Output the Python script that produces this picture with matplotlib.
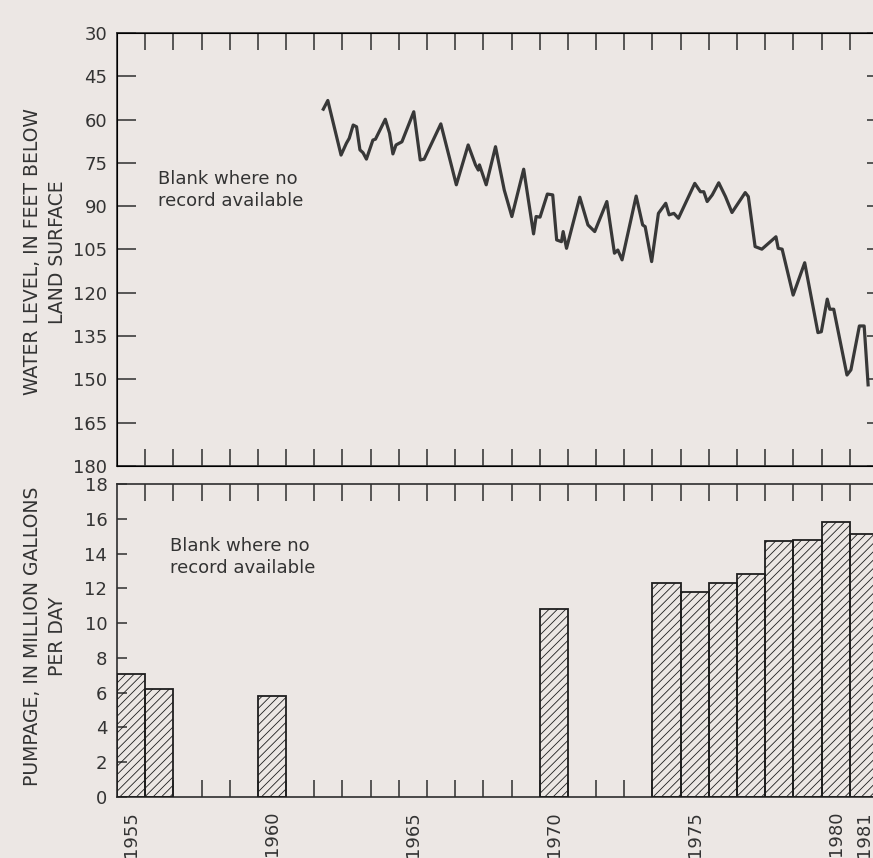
import matplotlib
matplotlib.use('Agg')
import matplotlib.pyplot as plt
import numpy as np

# water level record, feet below land surface
wl_year = [1961.82, 1961.98, 1962.45, 1962.64, 1962.74, 1962.88, 1963.00, 1963.12,
           1963.23, 1963.35, 1963.58, 1963.67, 1964.02, 1964.17, 1964.29, 1964.40,
           1964.61, 1965.03, 1965.26, 1965.40, 1965.99, 1966.54, 1966.96, 1967.22,
           1967.32, 1967.36, 1967.60, 1967.93, 1968.24, 1968.51, 1968.93, 1969.28,
           1969.37, 1969.51, 1969.77, 1969.96, 1970.10, 1970.27, 1970.33, 1970.45,
           1970.92, 1971.21, 1971.45, 1971.88, 1972.15, 1972.27, 1972.42, 1972.92,
           1973.15, 1973.24, 1973.47, 1973.71, 1973.97, 1974.09, 1974.26, 1974.42,
           1975.00, 1975.20, 1975.32, 1975.44, 1975.62, 1975.85, 1976.09, 1976.32,
           1976.79, 1976.90, 1977.14, 1977.38, 1977.88, 1977.96, 1978.10, 1978.49,
           1978.90, 1979.37, 1979.49, 1979.70, 1979.79, 1979.93, 1980.40, 1980.54,
           1980.84, 1981.01, 1981.15]
wl_depth = [56.4, 53.4, 72.3, 68.2, 66.5, 61.9, 62.5, 70.5,
            71.5, 73.7, 67.1, 66.8, 59.9, 64.7, 71.9, 68.8,
            67.7, 57.3, 74.0, 73.7, 61.5, 82.6, 68.8, 75.7,
            77.5, 75.7, 82.6, 69.4, 84.4, 93.6, 77.2, 99.6,
            93.6, 93.8, 85.8, 86.1, 101.7, 102.3, 98.8, 104.6,
            86.9, 96.5, 98.8, 88.4, 106.3, 105.2, 108.6, 86.5,
            96.5, 97.1, 109.2, 92.5, 89.0, 93.0, 92.5, 94.2,
            82.1, 85.0, 85.0, 88.4, 86.1, 81.9, 86.7, 92.2,
            85.3, 86.7, 104.0, 104.9, 100.6, 104.6, 104.9, 120.8,
            109.6, 133.8, 133.5, 122.2, 125.7, 125.7, 148.5, 146.7,
            131.5, 131.5, 151.9]

# annual pumpage, million gallons per day
pump_year = [1955, 1956, 1960, 1970, 1974, 1975, 1976, 1977, 1978, 1979, 1980, 1981]
pump_mgd = [7.1, 6.2, 5.8, 10.8, 12.3, 11.8, 12.3, 12.8, 14.7, 14.8, 15.8, 15.1]

label_years = [1955, 1960, 1965, 1970, 1975, 1980, 1981]

paper = '#ece7e4'
ink = '#2e2e2e'

plt.rcParams['font.family'] = 'DejaVu Sans'
plt.rcParams['hatch.linewidth'] = 0.6
plt.rcParams['hatch.color'] = '#3a3a3a'

fig = plt.figure(figsize=(8.73, 8.58), dpi=100, facecolor=paper)
ax1 = fig.add_axes([0.134, 0.4569, 0.8717, 0.5047], facecolor=paper)
ax2 = fig.add_axes([0.134, 0.0711, 0.8717, 0.3648], facecolor=paper, sharex=ax1)

bounds = np.arange(1955.5, 1982, 1.0)

for ax in (ax1, ax2):
    for s in ax.spines.values():
        s.set_color(ink)
        s.set_linewidth(1.2)
    ax.set_xlim(1954.5, 1981.3)
    ax.set_xticks(bounds, minor=True)
    ax.tick_params(axis='x', which='minor', direction='in', top=True, bottom=True,
                   length=12, width=1.1, color=ink)
    ax.tick_params(axis='y', labelsize=13, labelcolor='#333333', pad=7, color=ink)

# water level panel
ax1.plot(wl_year, wl_depth, color='#383838', lw=2.3, solid_joinstyle='round')
ax1.set_ylim(180, 30)
ax1.set_yticks(np.arange(30, 181, 15))
ax1.tick_params(axis='y', direction='in', length=14, width=1.1)
ax1.tick_params(axis='x', which='major', length=0, labelbottom=False)
ax1.text(0.054, 0.684, 'Blank where no\nrecord available', transform=ax1.transAxes,
         fontsize=13, va='top', ha='left', color='#333333', linespacing=1.3)

# short ticks on the right edge of the water level panel
ax1r = ax1.twinx()
ax1r.set_ylim(180, 30)
ax1r.set_yticks(np.arange(30, 181, 15))
ax1r.tick_params(axis='y', direction='in', length=8, width=1.1, color=ink,
                 labelright=False)
ax1r.spines['right'].set_color(ink)

# pumpage panel
ax2.bar(pump_year, pump_mgd, width=1.0, facecolor='none', edgecolor='#1e1e1e',
        linewidth=1.3, hatch='////', zorder=3)
ax2.set_ylim(0, 18)
ax2.set_yticks(np.arange(0, 19, 2))
ax2.tick_params(axis='y', direction='in', length=7, width=1.1)
ax2.set_xticks(label_years)
ax2.set_xticklabels([str(y) for y in label_years], rotation=90, fontsize=13,
                    color='#333333')
ax2.tick_params(axis='x', which='major', length=0, pad=10)
ax2.text(0.0696, 0.83, 'Blank where no\nrecord available', transform=ax2.transAxes,
         fontsize=13, va='top', ha='left', color='#333333', linespacing=1.3)

fig.text(45 / 873, 1 - 252 / 858, 'WATER LEVEL, IN FEET BELOW\nLAND SURFACE',
         rotation=90, ha='center', va='center', fontsize=13.5, color='#333333',
         linespacing=1.35)
fig.text(45 / 873, 1 - 636 / 858, 'PUMPAGE, IN MILLION GALLONS\nPER DAY',
         rotation=90, ha='center', va='center', fontsize=13.5, color='#333333',
         linespacing=1.35)

fig.savefig('out.png', dpi=100, facecolor=paper)
plt.close()
